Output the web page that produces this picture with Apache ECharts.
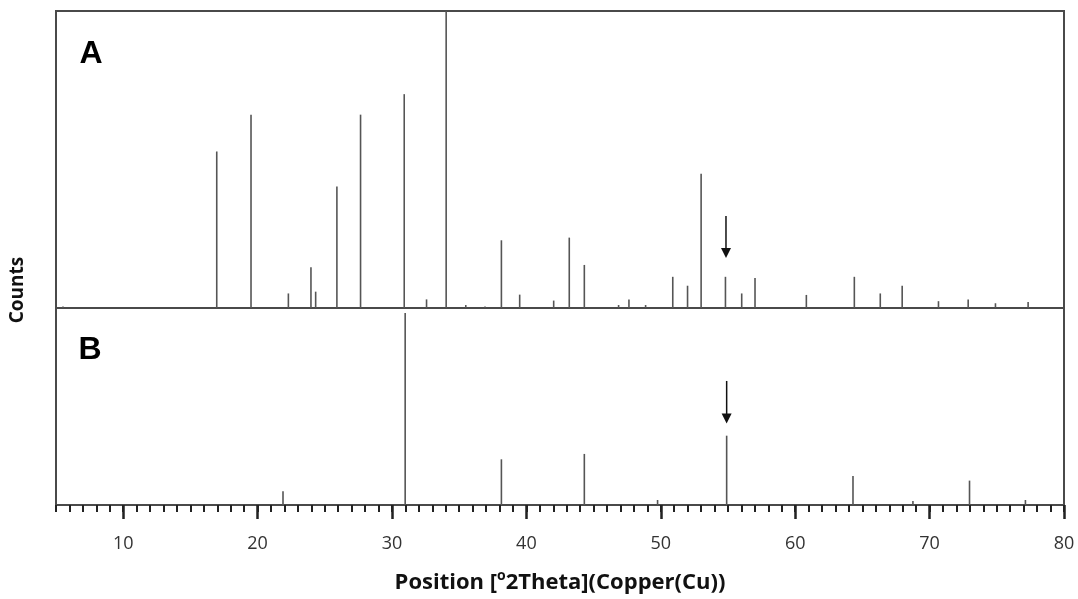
<!DOCTYPE html>
<html>
<head>
<meta charset="utf-8">
<script src="https://cdn.jsdelivr.net/npm/echarts@6/dist/echarts.min.js"></script>
<style>html,body{margin:0;padding:0;background:#fff}#c{width:1078px;height:599px}</style>
</head>
<body>
<div id="c"></div>
<script>
// Panel A: [2theta, relative intensity %]
var peaksA = [
  [5.52, 0.5], [16.96, 52.7], [19.51, 65.1], [22.29, 4.9], [23.97, 13.7], [24.32, 5.5],
  [25.90, 40.9], [27.66, 65.1], [30.91, 72.0], [32.57, 2.9], [34.03, 100], [35.49, 1.0],
  [36.92, 0.5], [38.14, 22.8], [39.50, 4.5], [42.03, 2.5], [43.19, 23.7], [44.31, 14.5],
  [46.86, 1.0], [47.63, 2.9], [48.87, 1.0], [50.89, 10.5], [51.99, 7.5], [53.00, 45.2],
  [54.81, 10.5], [56.02, 4.9], [57.01, 10.1], [60.83, 4.4], [64.40, 10.5], [66.33, 4.9],
  [67.96, 7.5], [70.66, 2.3], [72.87, 2.9], [74.90, 1.6], [77.33, 2.0]
];
// Panel B: [2theta, relative intensity %]
var peaksB = [
  [21.89, 7.1], [30.98, 100], [38.14, 23.8], [44.31, 26.6], [49.76, 2.6],
  [54.90, 36.1], [64.30, 15.1], [68.76, 2.1], [72.97, 12.7], [77.13, 2.6]
];
// Arrows: [2theta, from intensity, to intensity]
var arrowsA = [[54.85, 31.0, 16.8]];
var arrowsB = [[54.90, 64.6, 42.5]];
var xTickLabels = [10, 20, 30, 40, 50, 60, 70, 80];
var panelLabels = ['A', 'B'];

var chart = echarts.init(document.getElementById('c'), null, {renderer: 'canvas'});

function stick(params, api) {
  var x = api.value(0), y = api.value(1);
  var p0 = api.coord([x, 0]), p1 = api.coord([x, y]);
  return {type: 'line', shape: {x1: p0[0], y1: p0[1], x2: p1[0], y2: p1[1]},
          style: {stroke: '#555', lineWidth: 1.6}};
}
function arrow(params, api) {
  var x = api.value(0), yf = api.value(1), yt = api.value(2);
  var a = api.coord([x, yf]), b = api.coord([x, yt]);
  var hw = 5, hh = 10;
  return {type: 'group', children: [
    {type: 'line', shape: {x1: a[0], y1: a[1], x2: b[0], y2: b[1] - hh + 1}, style: {stroke: '#111', lineWidth: 1.5}},
    {type: 'polygon', shape: {points: [[b[0] - hw, b[1] - hh], [b[0] + hw, b[1] - hh], [b[0], b[1]]]}, style: {fill: '#111'}}
  ]};
}

var option = {
  backgroundColor: '#fff',
  animation: false,
  grid: [
    {left: 56, right: 14, top: 11, height: 297, show: true, borderColor: '#4a4a4a', borderWidth: 2, backgroundColor: 'transparent'},
    {left: 56, right: 14, top: 308, height: 197, show: true, borderColor: '#4a4a4a', borderWidth: 2, backgroundColor: 'transparent'}
  ],
  xAxis: [
    {gridIndex: 0, type: 'value', min: 5, max: 80, show: false},
    {gridIndex: 1, type: 'value', min: 5, max: 80, interval: 1,
      axisLine: {show: false}, splitLine: {show: false},
      axisTick: {show: true, length: 7, lineStyle: {color: '#222', width: 2}},
      axisLabel: {show: false}},
    {gridIndex: 1, type: 'value', min: 5, max: 80, position: 'bottom',
      axisLine: {show: false}, splitLine: {show: false},
      axisTick: {show: true, length: 14, customValues: xTickLabels, lineStyle: {color: '#222', width: 2.5}},
      axisLabel: {show: true, customValues: xTickLabels, margin: 30, fontSize: 18, color: '#333', fontFamily: 'Open Sans'},
      name: 'Position [{sup|o}2Theta](Copper(Cu))', nameLocation: 'middle', nameGap: 64,
      nameTextStyle: {fontFamily: 'Open Sans', fontWeight: 'bold', fontSize: 22, color: '#111', lineHeight: 28,
        rich: {sup: {fontFamily: 'Open Sans', fontWeight: 'bold', fontSize: 14, color: '#111', verticalAlign: 'top', lineHeight: 16}}}}
  ],
  yAxis: [
    {gridIndex: 0, type: 'value', min: 0, max: 100, show: false},
    {gridIndex: 1, type: 'value', min: 0, max: 102.6, show: false}
  ],
  graphic: [
    {type: 'text', x: 91, y: 54, style: {text: panelLabels[0], font: 'bold 32px "Liberation Sans", Arial, sans-serif', fill: '#000', textAlign: 'center', textVerticalAlign: 'middle'}},
    {type: 'text', x: 90, y: 350, style: {text: panelLabels[1], font: 'bold 32px "Liberation Sans", Arial, sans-serif', fill: '#000', textAlign: 'center', textVerticalAlign: 'middle'}},
    {type: 'text', x: 18, y: 290, rotation: Math.PI / 2, style: {text: 'Counts', font: 'bold 19px "Open Sans", sans-serif', fill: '#111', textAlign: 'center', textVerticalAlign: 'middle'}}
  ],
  series: [
    {type: 'custom', xAxisIndex: 0, yAxisIndex: 0, renderItem: stick, data: peaksA, encode: {x: 0, y: 1}, clip: false},
    {type: 'custom', xAxisIndex: 1, yAxisIndex: 1, renderItem: stick, data: peaksB, encode: {x: 0, y: 1}, clip: false},
    {type: 'custom', xAxisIndex: 0, yAxisIndex: 0, renderItem: arrow, data: arrowsA, encode: {x: 0, y: [1, 2]}},
    {type: 'custom', xAxisIndex: 1, yAxisIndex: 1, renderItem: arrow, data: arrowsB, encode: {x: 0, y: [1, 2]}}
  ]
};
chart.setOption(option);
</script>
</body>
</html>
